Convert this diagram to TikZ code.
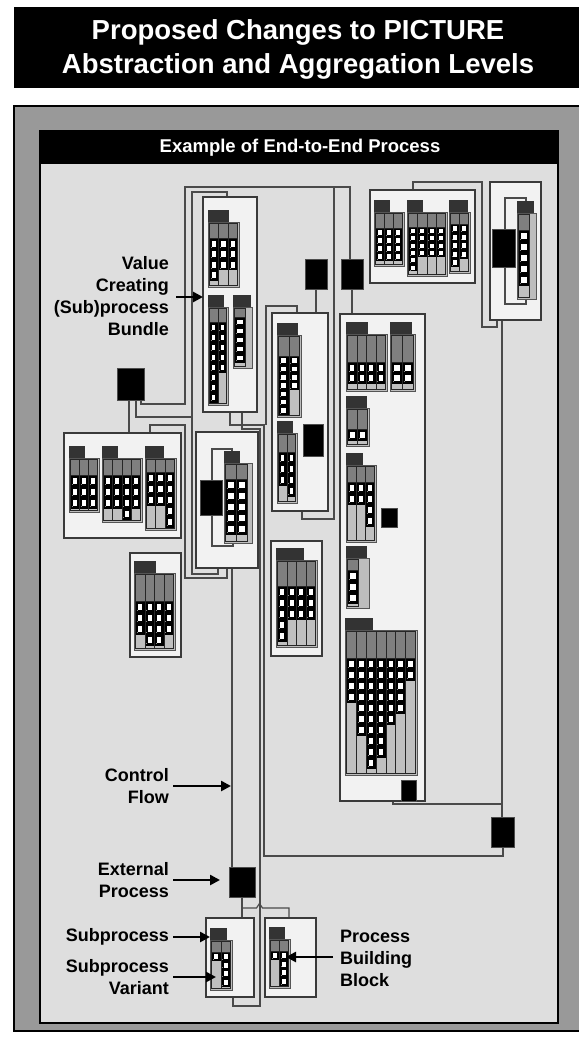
\documentclass[tikz,border=0pt]{standalone}
\usepackage{fontspec}
\setmainfont{Liberation Sans}
\usetikzlibrary{arrows.meta}
\definecolor{panelgray}{HTML}{999999}
\definecolor{innergray}{HTML}{DEDEDE}
\definecolor{boxfill}{HTML}{F2F2F2}
\definecolor{boxdraw}{HTML}{3A3A3A}
\definecolor{linec}{HTML}{4A4A4A}
\definecolor{tabfill}{HTML}{333333}
\definecolor{bodyfill}{HTML}{BDBDBD}
\definecolor{bodydraw}{HTML}{555555}
\definecolor{topfill}{HTML}{7F7F7F}
\definecolor{colfill}{HTML}{C0C0C0}
\definecolor{coldraw}{HTML}{262626}
\tikzset{
  bundlebox/.style={draw=boxdraw, fill=boxfill, line width=1.1pt, inner sep=0pt, outer sep=0pt},
  extbox/.style={draw=black!70, fill=black, line width=0.5pt, inner sep=0pt, outer sep=0pt},
  conn/.style={draw=linec, line width=1.2pt},
  lbl/.style={font=\fontsize{18}{22}\selectfont\bfseries, inner sep=0pt, text=black},
  larr/.style={draw=black, line width=2.5pt, -{Triangle[length=10pt,width=10pt]}}
}
% bundle box: name, x1, y1, x2, y2
\newcommand{\bundle}[5]{\node[bundlebox, minimum width={#4-#2}, minimum height={#5-#3}] (#1) at ({(#2+#4)/2},{(#3+#5)/2}) {};}
% external process: name, x1, y1, x2, y2
\newcommand{\extp}[5]{\node[extbox, minimum width={#4-#2}, minimum height={#5-#3}] (#1) at ({(#2+#4)/2},{(#3+#5)/2}) {};}
% subprocess glyph: x, bodytop, tabw, bodyw, bodyh, topcell, ncols, slot, counts
\newcommand{\subp}[9]{%
\begin{scope}[shift={(#1,#2)}]
 \pgfmathsetmacro{\cw}{min((#4-3)/#7,11)}
 \pgfmathsetmacro{\sqh}{max(0.55*#8,4)}
 \filldraw[draw=black!80, fill=tabfill, line width=0.5pt] (0,-11.5) rectangle (#3,0);
 \filldraw[draw=bodydraw, fill=bodyfill, line width=0.8pt] (0,0) rectangle (#4,#5);
 \foreach \n [count=\i] in {#9} {
   \pgfmathsetmacro{\xa}{1.5+(\i-1)*\cw}
   \pgfmathsetmacro{\xb}{\xa+\cw}
   \pgfmathsetmacro{\yb}{#5-1.5}
   \pgfmathsetmacro{\yc}{1.5+#6}
   \pgfmathsetmacro{\yd}{\yc+\n*#8}
   \fill[colfill] (\xa,1.5) rectangle (\xb,\yb);
   \fill[topfill] (\xa,1.5) rectangle (\xb,\yc);
   \fill[black] (\xa,\yc) rectangle (\xb,\yd);
   \foreach \k in {1,...,\n} {
     \pgfmathsetmacro{\sy}{\yc+(\k-1)*#8+(#8-\sqh)/2}
     \fill[white] (\xa+2.6,\sy) rectangle (\xb-2.6,\sy+\sqh);
     \draw[black!45, line width=0.4pt] (\xa+1.4,\sy+\sqh+0.1) -- (\xa+2.4,\sy+\sqh+0.1);
   }
   \draw[coldraw, line width=0.7pt] (\xa,1.5) rectangle (\xb,\yb);
   \draw[coldraw, line width=0.5pt] (\xa,\yc) -- (\xb,\yc);
 }
\end{scope}}
\begin{document}
\begin{tikzpicture}[x=1pt,y=-1pt]
\useasboundingbox (0,0) rectangle (579,1046);
\fill[white] (0,0) rectangle (579,1046);
% title
\fill[black] (14,7) rectangle (579,88);
\node[text=white, font=\fontsize{27.5}{34}\selectfont\bfseries, align=center, inner sep=0pt] (title) at (298,49) {Proposed Changes to PICTURE\\Abstraction and Aggregation Levels};
% panels
\fill[panelgray] (14,106) rectangle (579,1031);
\draw[black, line width=1.2pt] (579,106) -- (14,106) -- (14,1031) -- (579,1031);
\filldraw[fill=innergray, draw=black, line width=1.2pt] (40,131) rectangle (558,1023);
\fill[black] (40,131) rectangle (558,164);
\node[text=white, font=\fontsize{18.5}{20}\selectfont\bfseries, inner sep=0pt] (header) at (300,148) {Example of End-to-End Process};

% connectors (behind boxes)
\draw[conn] (141,400) -- (141,404) -- (185,404) -- (185,187) -- (350,187) -- (350,259);
\draw[conn] (136,400) -- (136,417) -- (192,417);
\draw[conn] (227,197) -- (227,192) -- (192,192) -- (192,574) -- (218,574) -- (218,568);
\draw[conn] (150,433) -- (150,425) -- (185,425) -- (185,578) -- (227,578) -- (227,568);
\draw[conn] (129,400) -- (129,433);
\draw[conn] (232,568) -- (232,867);
\draw[conn] (230,412) -- (230,425) -- (264,425) -- (264,856) -- (503,856) -- (503,847);
\draw[conn] (242,412) -- (242,429) -- (260,429) -- (260,1006) -- (233,1006) -- (233,997);
\draw[conn] (297,313) -- (297,306) -- (266,306) -- (266,425);
\draw[conn] (302,511) -- (302,519) -- (334,519) -- (334,187);
\draw[conn] (316,289) -- (316,313);
\draw[conn] (352,289) -- (352,314);
\draw[conn] (413,190) -- (413,182) -- (482,182) -- (482,327) -- (497,327) -- (497,320);
\draw[conn] (502,320) -- (502,817);
\draw[conn] (393,801) -- (393,804) -- (502,804);
\draw[conn] (242,897) -- (242,918);
\draw[conn] (242,908) -- (256.5,908) -- (259.5,903.5) -- (262.5,908) -- (289,908) -- (289,918);

% bundle boxes
\bundle{A}{203}{197}{257}{412}
\bundle{F}{370}{190}{475}{283}
\bundle{G}{490}{182}{541}{320}
\bundle{B}{64}{433}{181}{538}
\bundle{C}{272}{313}{328}{511}
\bundle{D}{196}{432}{258}{568}
\bundle{H}{130}{553}{181}{657}
\bundle{I}{271}{541}{322}{656}
\bundle{J}{340}{314}{425}{801}
\bundle{K}{206}{918}{254}{997}
\bundle{L}{265}{918}{316}{997}

% inner brackets
\draw[conn] (232,452) -- (232,449) -- (212,449) -- (212,546) -- (233,546) -- (233,543);
\draw[conn] (526,202) -- (526,198) -- (505,198) -- (505,304) -- (526,304) -- (526,299);

% subprocess glyphs
\subp{208}{222}{20}{31}{65}{15}{3}{10.5}{4,3,3}
\subp{208}{307}{15}{20}{98}{14}{2}{10}{8,5}
\subp{233}{307}{17}{19}{61}{9}{1}{9}{5}
\subp{374}{212}{15}{30}{54}{15}{3}{8}{4,4,4}
\subp{407}{212}{15}{40}{64}{14}{4}{7.3}{6,4,4,4}
\subp{449}{212}{18}{21}{61}{11}{2}{8.5}{5,4}
\subp{517}{213}{16}{19}{86}{16}{1}{11}{5}
\subp{69}{458}{15}{30}{54}{16}{3}{11}{3,3,3}
\subp{102}{458}{15}{40}{64}{16}{4}{11}{3,3,4,3}
\subp{145}{458}{18}{31}{72}{13}{3}{11}{3,3,5}
\subp{277}{335}{20}{24}{82}{20}{2}{8.3}{7,4}
\subp{277}{433}{15}{20}{70}{18}{2}{11}{3,4}
\subp{224}{463}{15}{28}{80}{15}{2}{11}{5,5}
\subp{134}{573}{21}{41}{77}{27}{4}{11}{3,4,4,3}
\subp{276}{560}{27}{41}{87}{25}{4}{11}{5,3,3,3}
\subp{346}{334}{21}{41}{57}{27}{4}{10.5}{2,2,2,2}
\subp{390}{334}{21}{25}{57}{27}{2}{10.5}{2,2}
\subp{346}{408}{20}{23}{38}{20}{2}{11}{1,1}
\subp{346}{465}{16}{30}{77}{16}{3}{11}{2,2,4}
\subp{346}{558}{20}{23}{50}{11}{1}{11}{3}
\subp{345}{630}{27}{72}{145}{27}{7}{11}{4,7,10,9,6,5,2}
\subp{210}{940}{16}{22}{50}{11}{2}{8.5}{1,4}
\subp{269}{939}{15}{21}{49}{11}{2}{8.5}{1,4}

% external processes
\extp{E1}{117}{368}{144}{400}
\extp{E2}{305}{259}{327}{289}
\extp{E3}{341}{259}{363}{289}
\extp{E4}{492}{229}{515}{267}
\extp{E5}{303}{424}{323}{456}
\extp{E6}{200}{480}{222}{515}
\extp{E7}{381}{508}{397}{527}
\extp{E8}{401}{780}{416}{801}
\extp{E9}{491}{817}{514}{847}
\extp{E10}{229}{867}{255}{897}

% labels
\node[lbl, anchor=east, align=right] (lv) at (169,296) {Value\\Creating\\(Sub)process\\Bundle};
\node[lbl, anchor=east, align=right] (lcf) at (169,786) {Control\\Flow};
\node[lbl, anchor=east, align=right] (lep) at (169,880) {External\\Process};
\node[lbl, anchor=east, align=right] (lsp) at (169,937) {Subprocess};
\node[lbl, anchor=east, align=right] (lsv) at (169,977) {Subprocess\\Variant};
\node[lbl, anchor=west, align=left] (lpb) at (340,958) {Process\\Building\\Block};
\coordinate (tv) at (203,297);
\coordinate (tc) at (231,786);
\coordinate (te) at (220,880);
\coordinate (ts) at (210,937);
\coordinate (tsv) at (216,977);
\coordinate (tp) at (286,957);
\draw[larr] ([xshift=7pt]tv -| lv.east) -- (tv);
\draw[larr] ([xshift=4pt]tc -| lcf.east) -- (tc);
\draw[larr] ([xshift=4pt]te -| lep.east) -- (te);
\draw[larr] ([xshift=4pt]ts -| lsp.east) -- (ts);
\draw[larr] ([xshift=4pt]tsv -| lsv.east) -- (tsv);
\draw[larr] ([xshift=-7pt]tp -| lpb.west) -- (tp);
\end{tikzpicture}
\end{document}
